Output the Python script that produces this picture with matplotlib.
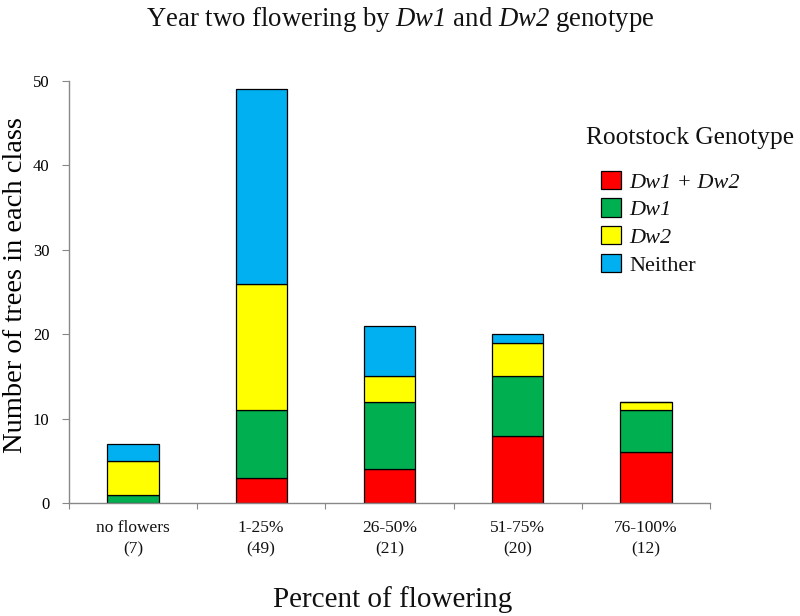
import matplotlib

matplotlib.use("Agg")
import matplotlib.pyplot as plt
import numpy as np

# Counts, per flowering class
CLASSES = ["no flowers", "1-25%", "26-50%", "51-75%", "76-100%"]
DW1_DW2 = [0, 3, 4, 8, 6]
DW1 = [1, 8, 8, 7, 5]
DW2 = [4, 15, 3, 4, 1]
NEITHER = [2, 23, 6, 1, 0]

# (legend label, counts, fill colour, italic label)
SERIES = [
    ("Dw1 + Dw2", DW1_DW2, "#FF0000", True),
    ("Dw1", DW1, "#00B050", True),
    ("Dw2", DW2, "#FFFF00", True),
    ("Neither", NEITHER, "#00B0F0", False),
]

plt.rcParams.update(
    {
        "font.family": "Liberation Serif",
        # \mathbf is used as an "italic incl. digits" font for the gene names
        "mathtext.fontset": "custom",
        "mathtext.rm": "Liberation Serif",
        "mathtext.bf": "Liberation Serif:italic",
        "text.color": "#111111",
    }
)

fig = plt.figure(figsize=(8.0, 6.16), dpi=100)
ax = fig.add_axes([0.086, 0.1834, 0.8015, 0.6851])

x = np.arange(len(CLASSES))
bottom = np.zeros(len(CLASSES))
for label, vals, color, _ in SERIES:
    vals = np.array(vals, dtype=float)
    ax.bar(x, vals, width=0.4, bottom=bottom, color=color,
           edgecolor="black", linewidth=0.9, label=label)
    bottom += vals

totals = bottom.astype(int)
ax.set_xlim(-0.5, len(CLASSES) - 0.5)
ax.set_ylim(0, 50)
ax.set_yticks(range(0, 51, 10))
ax.set_xticks(np.arange(-0.5, len(CLASSES), 1.0))
ax.set_xticklabels([])
ax.tick_params(axis="x", length=4, color="#888888", direction="out")
ax.tick_params(axis="y", length=5, color="#888888", labelsize=12, pad=9)
for xi, (name, tot) in enumerate(zip(CLASSES, totals)):
    ax.text(xi, -2.0, f"{name}\n({tot})", ha="center", va="top",
            fontsize=12.5, linespacing=1.45)

for side in ("top", "right"):
    ax.spines[side].set_visible(False)
for side in ("left", "bottom"):
    ax.spines[side].set_color("#888888")
    ax.spines[side].set_linewidth(1.0)

ax.set_ylabel("Number of trees in each class", fontsize=20.5)
ax.yaxis.set_label_coords(-0.064, 0.517)
fig.text(0.491, 0.027, "Percent of flowering", ha="center", va="center", fontsize=21)
fig.text(0.5, 0.968,
         "Year two flowering by $\\mathbf{Dw1}$ and $\\mathbf{Dw2}$ genotype",
         ha="center", va="center", fontsize=19.3)

fig.text(0.733, 0.776, "Rootstock Genotype", ha="left", va="center", fontsize=18.3)
leg = ax.legend(loc="upper left", bbox_to_anchor=(0.737, 0.741),
                bbox_transform=fig.transFigure, frameon=False, fontsize=16,
                handlelength=0.9, handleheight=0.9, handletextpad=0.4,
                labelspacing=0.26, borderpad=0)
for txt, (_, _, _, italic) in zip(leg.get_texts(), SERIES):
    if italic:
        txt.set_fontstyle("italic")

fig.savefig("out.png", dpi=100)
